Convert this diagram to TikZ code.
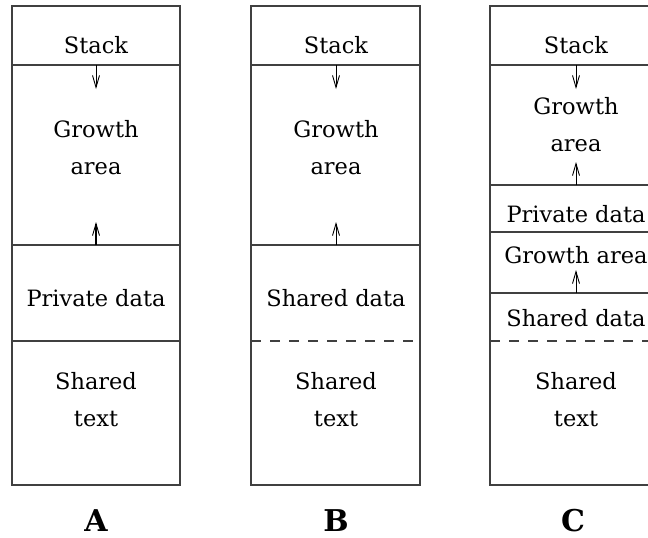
\documentclass[tikz,border=0pt]{standalone}
\usepackage{fontspec}
\setmainfont{DejaVu Serif}
\usetikzlibrary{arrows.meta}
\begin{document}
\begin{tikzpicture}[x=1pt,y=-1pt,
  frame/.style={draw=black!75,line width=1.1pt},
  sep/.style={draw=black!75,line width=1.1pt},
  dsep/.style={draw=black!75,line width=1.1pt,dash pattern=on 10pt off 9pt},
  growarrow/.style={draw=black,line width=0.9pt,-{Straight Barb[length=12pt,width=7pt,line width=0.9pt]}},
  lbl/.style={font=\fontsize{22.5}{37}\selectfont,align=center,inner sep=0pt},
  capt/.style={font=\fontsize{30}{34}\selectfont\bfseries,inner sep=0pt}]
\clip (0,0) rectangle (648,538);
\fill[white] (0,0) rectangle (648,538);
% ---------- A ----------
\draw[frame] (12,6) rectangle (180,485);
\draw[sep] (12,65) -- (180,65);
\draw[sep] (12,245) -- (180,245);
\draw[sep] (12,341) -- (180,341);
\node[lbl] (aStack) at (96,45) {Stack};
\node[lbl] (aGrow) at (96,148) {Growth\\area};
\node[lbl] (aPriv) at (96,298) {Private data};
\node[lbl] (aText) at (96,400) {Shared\\text};
\coordinate (aS0) at (96,65); \coordinate (aS1) at (96,89);
\coordinate (aG0) at (96,245); \coordinate (aG1) at (96,222);
\draw[growarrow] (aS0) -- (aS1);
\draw[growarrow,line width=1.5pt] (aG0) -- (aG1);
\node[capt] (capA) at (96,521) {A};
% ---------- B ----------
\draw[frame] (251,6) rectangle (420,485);
\draw[sep] (251,65) -- (420,65);
\draw[sep] (251,245) -- (420,245);
\draw[dsep] (251,341) -- (420,341);
\node[lbl] (bStack) at (336,45) {Stack};
\node[lbl] (bGrow) at (336,148) {Growth\\area};
\node[lbl] (bShd) at (336,298) {Shared data};
\node[lbl] (bText) at (336,400) {Shared\\text};
\coordinate (bS0) at (336,65); \coordinate (bS1) at (336,89);
\coordinate (bG0) at (336,245); \coordinate (bG1) at (336,222);
\draw[growarrow] (bS0) -- (bS1);
\draw[growarrow] (bG0) -- (bG1);
\node[capt] (capB) at (336,521) {B};
% ---------- C ----------
\draw[frame] (490,6) rectangle (658,485);
\draw[sep] (490,65) -- (658,65);
\draw[sep] (490,185) -- (658,185);
\draw[sep] (490,232) -- (658,232);
\draw[sep] (490,293) -- (658,293);
\draw[dsep] (490,341) -- (658,341);
\node[lbl] (cStack) at (576,45) {Stack};
\node[lbl] (cGrow) at (576,125) {Growth\\area};
\node[lbl] (cPriv) at (576,214) {Private data};
\node[lbl] (cGrow2) at (576,255) {Growth area};
\node[lbl] (cShd) at (576,318) {Shared data};
\node[lbl] (cText) at (576,400) {Shared\\text};
\coordinate (cS0) at (576,65); \coordinate (cS1) at (576,89);
\coordinate (cG0) at (576,185); \coordinate (cG1) at (576,162);
\coordinate (cH0) at (576,293); \coordinate (cH1) at (576,270);
\draw[growarrow] (cS0) -- (cS1);
\draw[growarrow] (cG0) -- (cG1);
\draw[growarrow] (cH0) -- (cH1);
\node[capt] (capC) at (573,521) {C};
\end{tikzpicture}
\end{document}
